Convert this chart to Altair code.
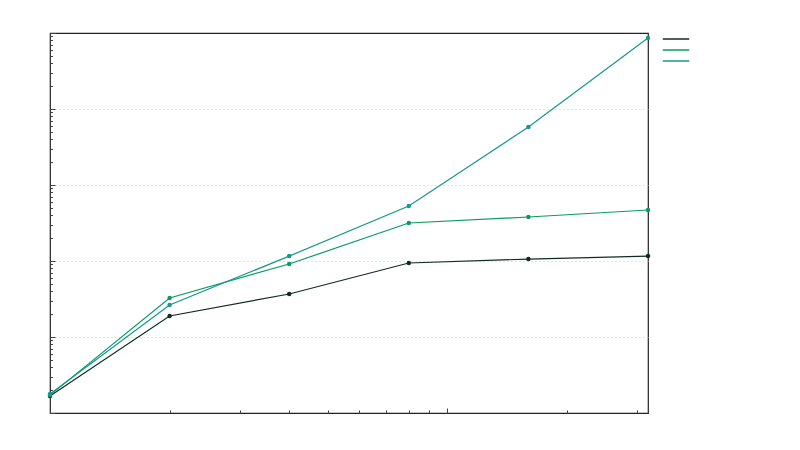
import altair as alt
import pandas as pd

# ---- data ----
x_vals = [1, 2, 4, 8, 16, 32]
series_names = ["s1", "s2", "s3"]
s1_vals = [1.67, 18.9, 36.8, 94.1, 106, 116]
s2_vals = [1.72, 32.6, 91.4, 316, 379, 469]
s3_vals = [1.78, 26.4, 116, 529, 5795, 85900]
series_colors = ["#0f2b25", "#0a9b62", "#17978f"]

x_ticks = [1, 2, 3, 4, 5, 6, 7, 8, 9, 10, 20, 30]
y_ticks = [k * 10 ** d for d in range(5) for k in range(1, 10)] + [100000]

rows = []
for name, vals in zip(series_names, [s1_vals, s2_vals, s3_vals]):
    for xv, yv in zip(x_vals, vals):
        rows.append({"x": xv, "y": yv, "series": name})
df = pd.DataFrame(rows)

W, H = 598, 380

x_enc = alt.X(
    "x:Q",
    scale=alt.Scale(type="log", domain=[1, 32], nice=False),
    axis=alt.Axis(
        orient="top", offset=-H, values=x_ticks, labels=False, domain=False,
        grid=False, title=None, tickColor="#444444", tickWidth=1,
        tickSize={"condition": {"test": "datum.value == 10", "value": 5}, "value": 3},
    ),
)
y_enc = alt.Y(
    "y:Q",
    scale=alt.Scale(type="log", domain=[1, 100000], nice=False),
    axis=alt.Axis(
        orient="right", offset=-W, values=y_ticks, labels=False, domain=False,
        title=None, tickColor="#444444", tickWidth=1,
        tickSize={"condition": {"test": "indexof([1,10,100,1000,10000,100000], datum.value) >= 0", "value": 5}, "value": 2.5},
        grid=True, gridColor="#c8c8c8", gridDash=[1, 3], gridWidth=1,
        gridOpacity={"condition": {"test": "indexof([10,100,1000,10000], datum.value) >= 0", "value": 1}, "value": 0},
    ),
)
color_scale = alt.Scale(domain=series_names, range=series_colors)

lines = alt.Chart(df).mark_line(strokeWidth=1.2).encode(
    x=x_enc, y=y_enc,
    color=alt.Color(
        "series:N", scale=color_scale,
        legend=alt.Legend(
            orient="none", legendX=619, legendY=-1, title=None,
            symbolType="M-2.2,0H2.2", symbolSize=144, symbolStrokeWidth=1.5,
            labelExpr="''", labelFontSize=1, rowPadding=1, padding=0,
        ),
    ),
)
points = alt.Chart(df).mark_point(filled=True, size=20, opacity=1).encode(
    x=x_enc, y=y_enc,
    color=alt.Color("series:N", scale=color_scale, legend=None),
)

chart = (
    alt.layer(lines, points)
    .properties(
        width=W, height=H,
        background="white",
        autosize=alt.AutoSizeParams(type="none"),
        padding={"left": 42, "top": 25, "right": 144, "bottom": 29},
    )
    .configure_view(stroke="#222222", strokeWidth=1.2)
)

chart.save("out.html", embed_options={"renderer": "svg", "actions": False})
